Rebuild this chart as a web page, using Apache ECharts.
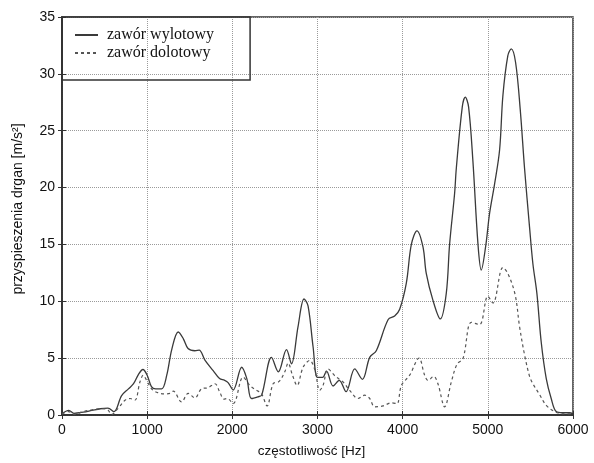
<!DOCTYPE html>
<html>
<head>
<meta charset="utf-8">
<script src="https://cdn.jsdelivr.net/npm/echarts@6/dist/echarts.min.js"></script>
<style>html,body{margin:0;padding:0;background:#fff}#c{width:594px;height:463px}</style>
</head>
<body>
<div id="c"></div>
<script>
var seriesNames = ['zawór wylotowy', 'zawór dolotowy'];
var xTicks = [0, 1000, 2000, 3000, 4000, 5000, 6000];
var yTicks = [0, 5, 10, 15, 20, 25, 30, 35];

var freqOut = [0,80,140,250,350,450,540,610,700,780,840,900,950,1000,1050,1100,1170,1230,1290,1365,1425,1480,1560,1610,1680,1775,1850,1910,1950,2010,2110,2170,2225,2300,2345,2460,2540,2636,2694,2772,2842,2889,2948,3000,3060,3105,3183,3255,3335,3437,3527,3613,3690,3830,3906,3965,4043,4102,4168,4238,4277,4355,4442,4512,4551,4610,4630,4700,4735,4774,4825,4884,4923,4974,5020,5079,5138,5177,5235,5275,5326,5380,5431,5490,5529,5576,5627,5686,5744,5803,5880,5960,6000];
var valOut = [0.1,0.4,0.15,0.25,0.4,0.55,0.6,0.3,1.7,2.3,2.75,3.6,4.0,3.5,2.5,2.3,2.3,3.5,5.8,7.3,6.7,5.85,5.65,5.7,4.8,3.9,3.2,3.05,2.85,2.2,4.2,3.2,1.45,1.6,1.75,5.07,3.8,5.75,4.5,7.8,10.2,9.6,6.0,3.3,3.3,3.85,2.55,3.05,2.05,4.05,3.13,5.07,5.65,8.4,8.7,9.3,11.6,15.0,16.2,14.8,12.45,10.1,8.45,10.7,15.0,19.5,21.7,27.1,27.95,27.1,22.3,15.05,12.75,14.8,17.7,20.3,23.3,28.1,31.6,32.2,31.0,26.9,21.7,16.5,13.3,10.7,6.4,3.2,1.45,0.3,0.2,0.2,0.1];

var freqIn = [0,80,140,250,350,450,530,583,660,740,800,856,915,954,993,1052,1110,1200,1267,1306,1404,1482,1560,1638,1716,1795,1853,1900,1940,2010,2127,2205,2284,2342,2408,2479,2549,2616,2655,2706,2760,2831,2909,2968,3026,3065,3124,3210,3300,3378,3476,3554,3613,3672,3769,3867,3933,3985,4082,4192,4258,4297,4364,4414,4493,4571,4640,4708,4806,4903,5000,5060,5177,5235,5320,5372,5431,5490,5529,5607,5686,5783,5880,6000];
var valIn = [0.1,0.3,0.05,0.3,0.45,0.55,0.5,0.05,0.6,1.3,1.45,1.3,2.9,3.5,3.05,2.3,2.0,1.85,1.9,2.1,1.15,1.9,1.5,2.3,2.4,2.75,2.0,1.4,1.45,1.0,3.33,2.6,2.17,1.88,0.8,2.75,2.95,3.8,4.57,3.5,2.6,4.2,4.8,4.0,2.17,2.6,4.05,3.4,2.9,2.17,1.45,1.74,1.45,0.72,0.8,1.07,1.0,2.6,3.5,5.0,3.5,3.04,3.4,2.75,0.72,2.9,4.5,4.95,8.15,7.95,10.45,9.85,12.97,12.45,10.6,7.8,5.3,3.4,2.75,1.8,0.85,0.3,0.1,0.1];

function pairs(xs, ys) { return xs.map(function (x, i) { return [x, ys[i]]; }); }

var chart = echarts.init(document.getElementById('c'), null, {renderer: 'canvas'});
var sans = 'Liberation Sans, Arial, sans-serif';
var gridLine = {show: true, lineStyle: {color: '#9a9a9a', type: 'dotted', width: 1}};
var xCommon = {type: 'value', min: xTicks[0], max: xTicks[xTicks.length - 1], interval: 1000};
var yCommon = {type: 'value', min: yTicks[0], max: yTicks[yTicks.length - 1], interval: 5};

chart.setOption({
  animation: false,
  backgroundColor: '#fff',
  grid: {left: 62, right: 21, top: 17, bottom: 43, show: true, borderColor: '#333', borderWidth: 1.5, backgroundColor: 'transparent'},
  legend: {
    orient: 'vertical', left: 62, top: 17,
    data: seriesNames,
    borderColor: '#333', borderWidth: 1.5,
    padding: [10, 36, 19, 12],
    itemGap: 2, itemWidth: 23, itemHeight: 14,
    itemStyle: {opacity: 0},
    textStyle: {fontFamily: 'Liberation Serif, Times New Roman, serif', fontSize: 16, color: '#111', padding: [0, 0, 0, 4]}
  },
  xAxis: [
    Object.assign({}, xCommon, {
      position: 'bottom',
      name: 'częstotliwość [Hz]', nameLocation: 'middle', nameGap: 29,
      nameTextStyle: {fontFamily: sans, fontSize: 13.5, color: '#111', padding: [0, 12, 0, 0]},
      axisLine: {show: true, lineStyle: {color: '#333', width: 1.5}},
      axisTick: {show: true, inside: true, length: 4, lineStyle: {color: '#333'}},
      axisLabel: {fontFamily: sans, fontSize: 14, color: '#111', margin: 8, formatter: function (v) { return String(v); }},
      splitLine: gridLine
    }),
    Object.assign({}, xCommon, {
      position: 'top',
      axisLine: {show: true, lineStyle: {color: '#333', width: 1.5}},
      axisTick: {show: true, inside: true, length: 4, lineStyle: {color: '#333'}},
      axisLabel: {show: false}, splitLine: {show: false}
    })
  ],
  yAxis: [
    Object.assign({}, yCommon, {
      position: 'left',
      name: 'przyspieszenia drgan [m/s²]', nameLocation: 'middle', nameGap: 37,
      nameTextStyle: {fontFamily: sans, fontSize: 14, color: '#111', padding: [0, 0, 0, 14]},
      axisLine: {show: true, lineStyle: {color: '#333', width: 1.5}},
      axisTick: {show: true, inside: true, length: 4, lineStyle: {color: '#333'}},
      axisLabel: {fontFamily: sans, fontSize: 14, color: '#111', margin: 7},
      splitLine: gridLine
    }),
    Object.assign({}, yCommon, {
      position: 'right',
      axisLine: {show: true, lineStyle: {color: '#333', width: 1.5}},
      axisTick: {show: true, inside: true, length: 4, lineStyle: {color: '#333'}},
      axisLabel: {show: false}, splitLine: {show: false}
    })
  ],
  series: [
    {
      name: seriesNames[0], type: 'line', smooth: 0.35, symbol: 'none',
      data: pairs(freqOut, valOut),
      lineStyle: {color: '#3a3a3a', width: 1.3, type: 'solid'},
      itemStyle: {color: '#3a3a3a'}
    },
    {
      name: seriesNames[1], type: 'line', smooth: 0.35, symbol: 'none',
      data: pairs(freqIn, valIn),
      lineStyle: {color: '#555', width: 1.2, type: [3, 3]},
      itemStyle: {color: '#555'}
    }
  ]
});
</script>
</body>
</html>
